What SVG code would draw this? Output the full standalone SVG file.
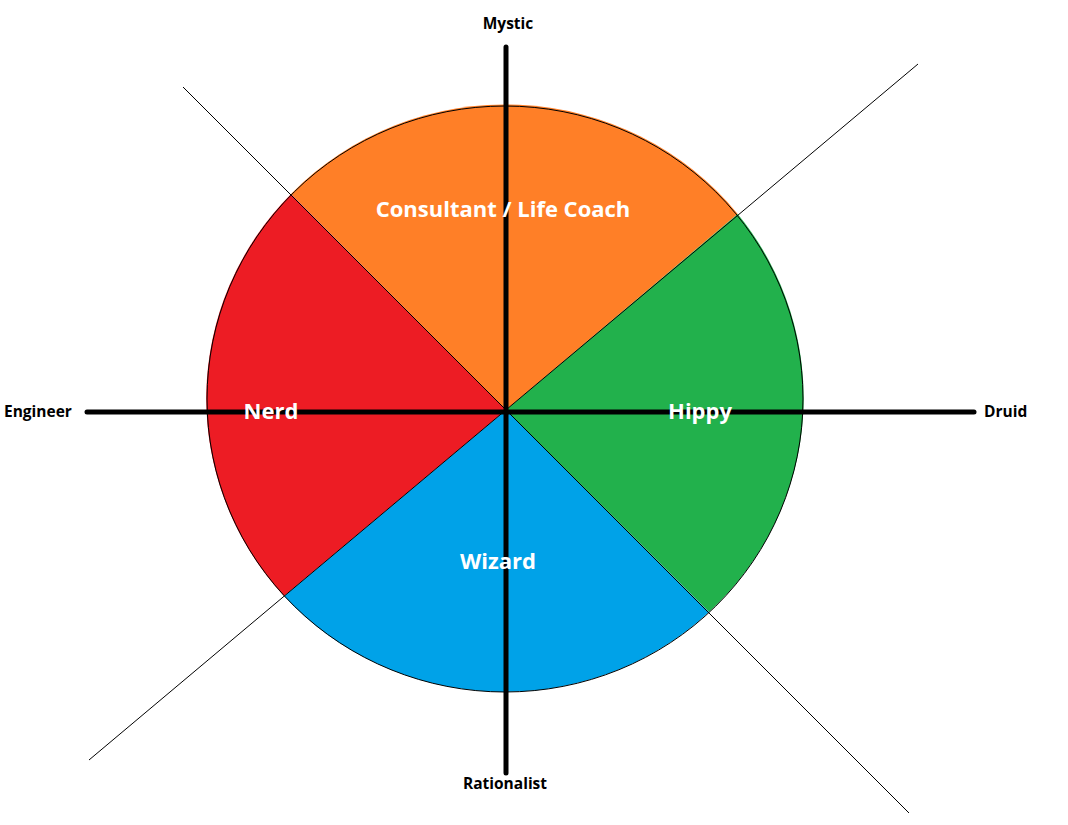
<svg xmlns="http://www.w3.org/2000/svg" width="1068" height="825" viewBox="0 0 1068 825">
<style>
.sector{stroke:none}
.big{font-family:"Open Sans","Liberation Sans",sans-serif;font-weight:bold;font-size:22px;fill:#fff;text-anchor:middle}
.axl{font-family:"Open Sans","Liberation Sans",sans-serif;font-weight:bold;font-size:15.5px;fill:#000}
.axis{stroke:#000;stroke-width:5;stroke-linecap:round;fill:none}
.diag{stroke:#000;stroke-width:1;fill:none}
</style>
<rect width="1068" height="825" fill="#fff"/>
<g id="consultant">
<path class="sector" fill="#FF7F27" d="M506,410 L291,194 A298,293 0 0 1 737.7,214 Z"/>
</g>
<g id="hippy">
<path class="sector" fill="#22B14C" d="M506,410 L737.7,214 A298,293 0 0 1 709,612 Z"/>
</g>
<g id="wizard">
<path class="sector" fill="#00A2E8" d="M506,410 L709,612 A298,293 0 0 1 284,596 Z"/>
</g>
<g id="nerd">
<path class="sector" fill="#ED1C24" d="M506,410 L284,596 A298,293 0 0 1 291,194 Z"/>
</g>
<ellipse id="outline" cx="505" cy="399" rx="298" ry="293" fill="none" stroke="#000" stroke-width="1"/>
<g id="connectors">
<line class="diag" x1="183" y1="87" x2="909" y2="813"/>
<line class="diag" x1="918" y1="64" x2="89" y2="760"/>
<line class="axis" x1="506" y1="47" x2="506" y2="773"/>
<line class="axis" x1="87" y1="412" x2="974" y2="412"/>
</g>
<g id="labels">
<text class="big" x="503" y="217">Consultant / Life Coach</text>
<text class="big" x="271" y="419">Nerd</text>
<text class="big" x="700" y="419">Hippy</text>
<text class="big" x="498" y="569">Wizard</text>
<text class="axl" x="508" y="29" text-anchor="middle">Mystic</text>
<text class="axl" x="505" y="789" text-anchor="middle">Rationalist</text>
<text class="axl" x="4" y="417">Engineer</text>
<text class="axl" x="984" y="417">Druid</text>
</g>
</svg>
